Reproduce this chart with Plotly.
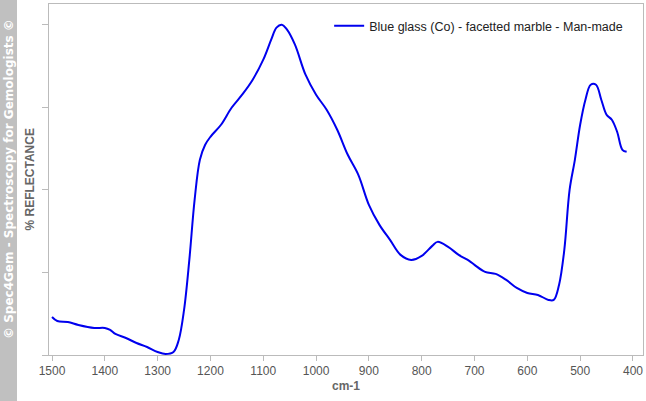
import plotly.graph_objects as go

wavenumber = [1500,1490,1470,1450,1420,1400,1390,1380,1360,1340,1320,1300,1285,1270,1260,1250,1240,1230,1220,1210,1200,1180,1160,1140,1120,1100,1085,1075,1065,1055,1040,1020,1000,980,960,940,920,900,880,860,840,820,800,780,770,750,730,710,700,680,660,640,620,600,580,560,550,540,530,520,510,500,490,480,470,460,450,440,430,420,412]
ypx = [317,321,322,325,328,328,330,334,338,343,347,352,354,352,340,310,260,200,160,145,137,125,108,95,80,60,40,28,25,30,45,75,95,110,130,155,175,205,225,240,255,260,256,246,242,247,255,261,265,272,274,280,288,293,295,300,300,285,250,190,160,125,100,85,85,100,115,120,132,150,152]
reflectance = [(355-v)/82.5 for v in ypx]

fig = go.Figure(go.Scatter(x=wavenumber, y=reflectance, mode="lines", line=dict(color="#0000ee", width=2, shape="spline"),
                           name="Blue glass (Co) - facetted marble - Man-made"))
fig.update_layout(width=646, height=401, margin=dict(l=49, r=3, t=4, b=46, autoexpand=False), plot_bgcolor="white", paper_bgcolor="white",
                  font=dict(family="Liberation Sans", color="#555"), showlegend=True,
                  legend=dict(x=0.975, y=0.98, xanchor="right", yanchor="top", bgcolor="rgba(0,0,0,0)", font=dict(size=12.5, color="#222")),
                  shapes=[dict(type="rect", xref="paper", yref="paper", x0=-49/594, x1=-32/594, y0=-1, y1=2, fillcolor="#c0c0c0", line_width=0, layer="below")],
                  annotations=[dict(text="<b>© Spec4Gem - Spectroscopy for Gemologists ©</b>", textangle=-90, xref="paper", yref="paper", x=-40.5/594, y=0.5, showarrow=False, font=dict(color="white", size=12, family="DejaVu Sans"), xanchor="center", yanchor="middle"),
                               dict(text="<b>% REFLECTANCE</b>", textangle=-90, xref="paper", yref="paper", x=-20/594, y=0.5, showarrow=False, font=dict(color="#666", size=12), xanchor="center", yanchor="middle")])
fig.update_xaxes(range=[1505.7, 381], tickvals=[1500,1400,1300,1200,1100,1000,900,800,700,600,500,400], ticks="outside", ticklen=5, automargin=False,
                 tickcolor="#bbb", showline=True, linecolor="#bbb", mirror=True, showgrid=False, zeroline=False,
                 title=dict(text="<b>cm-1</b>", font=dict(size=12, color="#666"), standoff=4), tickfont=dict(size=12, color="#555"))
fig.update_yaxes(range=[0, 4.25], tickvals=[0,1,2,3,4], showticklabels=False, ticks="outside", ticklen=6, tickcolor="#bbb", automargin=False,
                 showline=True, linecolor="#bbb", mirror=True, showgrid=False, zeroline=False)
fig.write_html("out.html", config={"displayModeBar": False}, post_script="document.body.style.margin='0';document.body.style.overflow='hidden';")
